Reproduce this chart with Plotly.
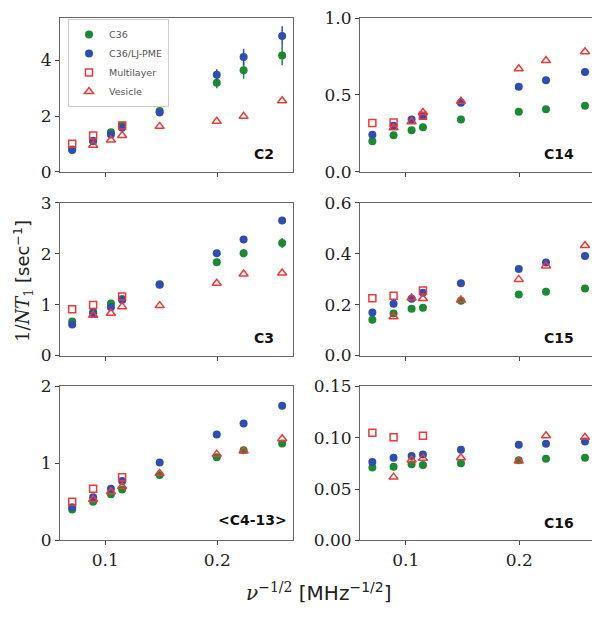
import plotly.graph_objects as go

# x = nu^(-1/2) [MHz^-1/2]
x_sim = [0.0705, 0.0892, 0.1051, 0.1151, 0.1486, 0.1996, 0.2236, 0.2580]
x_multi = [0.0705, 0.0892, 0.1151]
x_ves = [0.0892, 0.1051, 0.1151, 0.1486, 0.1996, 0.2236, 0.2580]

panels = ["C2", "C14", "C3", "C15", "<C4-13>", "C16"]

c36 = {
    "C2": [0.80, 1.10, 1.42, 1.66, 2.18, 3.20, 3.64, 4.17],
    "C14": [0.198, 0.238, 0.270, 0.289, 0.340, 0.390, 0.406, 0.430],
    "C3": [0.67, 0.86, 1.02, 1.11, 1.40, 1.83, 2.01, 2.21],
    "C15": [0.141, 0.165, 0.184, 0.188, 0.215, 0.240, 0.250, 0.263],
    "<C4-13>": [0.40, 0.50, 0.60, 0.66, 0.85, 1.08, 1.17, 1.26],
    "C16": [0.0710, 0.0717, 0.0742, 0.0733, 0.0752, 0.0780, 0.0796, 0.0805],
}
c36_err = {
    "C2": [0.05, 0.08, 0.08, 0.08, 0.10, 0.20, 0.30, 0.35],
    "C14": [0, 0, 0, 0, 0, 0, 0, 0],
    "C3": [0.03, 0.04, 0.05, 0.05, 0.05, 0.07, 0.08, 0.10],
    "C15": [0, 0, 0, 0, 0, 0, 0, 0],
    "<C4-13>": [0, 0, 0, 0, 0, 0, 0, 0],
    "C16": [0, 0, 0, 0, 0, 0, 0, 0],
}
ljpme = {
    "C2": [0.78, 1.11, 1.34, 1.58, 2.13, 3.48, 4.12, 4.87],
    "C14": [0.240, 0.300, 0.340, 0.364, 0.449, 0.553, 0.596, 0.649],
    "C3": [0.61, 0.83, 0.95, 1.09, 1.39, 2.01, 2.28, 2.65],
    "C15": [0.169, 0.203, 0.223, 0.247, 0.284, 0.340, 0.365, 0.391],
    "<C4-13>": [0.43, 0.56, 0.67, 0.77, 1.01, 1.375, 1.52, 1.75],
    "C16": [0.0764, 0.0805, 0.0821, 0.0837, 0.0884, 0.0932, 0.0941, 0.0963],
}
ljpme_err = {
    "C2": [0.05, 0.08, 0.08, 0.08, 0.10, 0.20, 0.30, 0.35],
    "C14": [0, 0, 0, 0, 0, 0, 0, 0],
    "C3": [0.03, 0.04, 0.04, 0.04, 0.05, 0.05, 0.05, 0.06],
    "C15": [0, 0, 0, 0, 0, 0, 0, 0],
    "<C4-13>": [0, 0, 0, 0, 0, 0, 0, 0],
    "C16": [0, 0, 0, 0, 0, 0, 0, 0],
}
multilayer = {
    "C2": [1.01, 1.30, 1.66],
    "C14": [0.318, 0.320, 0.364],
    "C3": [0.91, 0.99, 1.16],
    "C15": [0.225, 0.235, 0.255],
    "<C4-13>": [0.50, 0.67, 0.82],
    "C16": [0.1048, 0.1004, 0.1020],
}
vesicle = {
    "C2": [0.95, 1.14, 1.30, 1.63, 1.81, 1.99, 2.55],
    "C14": [0.287, 0.325, 0.385, 0.459, 0.670, 0.723, 0.780],
    "C3": [0.79, 0.83, 0.96, 0.98, 1.42, 1.60, 1.62],
    "C15": [0.152, 0.226, 0.224, 0.218, 0.299, 0.352, 0.432],
    "<C4-13>": [0.53, 0.63, 0.70, 0.87, 1.12, 1.16, 1.32],
    "C16": [0.0616, 0.0783, 0.0799, 0.0805, 0.0774, 0.1020, 0.1004],
}

y_ranges = {"C2": [0, 5.52], "C14": [0, 1.0], "C3": [0, 3.0],
            "C15": [0, 0.6], "<C4-13>": [0, 2.0], "C16": [0, 0.15]}
y_ticks = {"C2": [0, 2, 4], "C14": [0.0, 0.5, 1.0], "C3": [0, 1, 2, 3],
           "C15": [0.0, 0.2, 0.4, 0.6], "<C4-13>": [0, 1, 2],
           "C16": [0.00, 0.05, 0.10, 0.15]}
y_ticktext = {"C2": ["0", "2", "4"], "C14": ["0.0", "0.5", "1.0"],
              "C3": ["0", "1", "2", "3"], "C15": ["0.0", "0.2", "0.4", "0.6"],
              "<C4-13>": ["0", "1", "2"], "C16": ["0.00", "0.05", "0.10", "0.15"]}
x_ticks = [0.1, 0.2]
x_ticktext = ["0.1", "0.2"]

GREEN = "#1c8a33"
BLUE = "#2f4fb0"
RED = "#f03a3a"

# page body adds an 8px margin; lay out in reference pixel coords minus 8
OFF = 8
W, H = 600 - OFF, 617 - OFF
col_px = [(60, 293), (360, 596)]
col_dom = [[(a - OFF) / W, (b - OFF) / W] for a, b in col_px]
row_px = [(8, 167), (199, 357), (389, 548)]
row_dom = [[1 - (b - OFF) / H, 1 - (t - OFF) / H] for t, b in row_px]
label_right = {"C2": 17, "C14": 20, "C3": 17, "C15": 20, "<C4-13>": 4, "C16": 20}
label_up = {"C2": 18, "C14": 18, "C3": 18, "C15": 18, "<C4-13>": 21, "C16": 18}

fig = go.Figure()
serif = "DejaVu Serif"

for i, p in enumerate(panels):
    r, c = divmod(i, 2)
    k = i + 1
    xa = "x" if k == 1 else f"x{k}"
    ya = "y" if k == 1 else f"y{k}"
    show = (i == 0)
    fig.add_trace(go.Scatter(
        x=x_sim, y=c36[p], mode="markers", name="C36",
        showlegend=show, xaxis=xa, yaxis=ya,
        marker=dict(symbol="circle", size=8, color=GREEN),
        error_y=dict(type="data", array=c36_err[p], color=GREEN, thickness=1.5, width=0)))
    fig.add_trace(go.Scatter(
        x=x_sim, y=ljpme[p], mode="markers", name="C36/LJ-PME",
        showlegend=show, xaxis=xa, yaxis=ya,
        marker=dict(symbol="circle", size=8, color=BLUE),
        error_y=dict(type="data", array=ljpme_err[p], color=BLUE, thickness=1.5, width=0)))
    fig.add_trace(go.Scatter(
        x=x_multi, y=multilayer[p], mode="markers", name="Multilayer",
        showlegend=show, xaxis=xa, yaxis=ya,
        marker=dict(symbol="square-open", size=7, color=RED, line=dict(width=1.5))))
    fig.add_trace(go.Scatter(
        x=x_ves, y=vesicle[p], mode="markers", name="Vesicle",
        showlegend=show, xaxis=xa, yaxis=ya,
        marker=dict(symbol="triangle-up-open", size=8, color=RED, line=dict(width=1.5))))

    axis_common = dict(showline=True, mirror=True, linecolor="#666666", linewidth=1,
                       ticks="outside", ticklen=4, tickcolor="#444444", showgrid=False,
                       zeroline=False, ticklabeloverflow="allow",
                       tickfont=dict(family=serif, size=17, color="#222222"))
    xkey = "xaxis" if k == 1 else f"xaxis{k}"
    ykey = "yaxis" if k == 1 else f"yaxis{k}"
    fig.update_layout(**{
        xkey: dict(domain=col_dom[c], anchor=ya, range=[0.0596, 0.2677],
                   tickvals=x_ticks, ticktext=x_ticktext, showticklabels=(r == 2),
                   **axis_common),
        ykey: dict(domain=row_dom[r], anchor=xa, range=y_ranges[p],
                   tickvals=y_ticks[p], ticktext=y_ticktext[p], **axis_common),
    })
    wpx = (col_dom[c][1] - col_dom[c][0]) * W
    hpx = (row_dom[r][1] - row_dom[r][0]) * H
    fig.add_annotation(
        text=f"<b>{p.replace('<', '&lt;').replace('>', '&gt;')}</b>",
        xref=f"{xa} domain", yref=f"{ya} domain",
        x=1 - label_right[p] / wpx, y=label_up[p] / hpx,
        xanchor="right", yanchor="middle", showarrow=False,
        font=dict(family="DejaVu Sans", size=14, color="#111111"))

fig.add_annotation(
    text="1/<i>NT</i><sub>1</sub> <span style='font-family:DejaVu Sans'>[sec<sup>−1</sup>]</span>",
    xref="paper", yref="paper", x=0, y=1 - (280 - OFF) / H, textangle=-90,
    xanchor="left", yanchor="middle", showarrow=False,
    font=dict(family=serif, size=18, color="#222222"))
fig.add_annotation(
    text="<i>ν</i><sup>−1/2</sup> <span style='font-family:DejaVu Sans'>[MHz<sup>−1/2</sup>]</span>",
    xref="paper", yref="paper", x=(318 - OFF) / W, y=1 - (601 - OFF) / H,
    xanchor="center", yanchor="middle", showarrow=False,
    font=dict(family=serif, size=20, color="#222222"))

fig.update_layout(
    width=W, height=H, margin=dict(l=0, r=0, t=0, b=0),
    paper_bgcolor="white", plot_bgcolor="white",
    legend=dict(x=(68 - OFF) / W, y=1 - (9 - OFF) / H, xanchor="left", yanchor="top",
                bgcolor="white", bordercolor="#cccccc", borderwidth=1,
                font=dict(family="DejaVu Sans", size=9.5, color="#555555"),
                itemwidth=30, tracegroupgap=0),
)

fig.write_html("out.html")
